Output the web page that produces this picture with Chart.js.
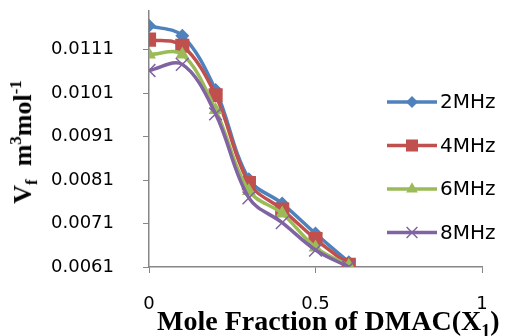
<!DOCTYPE html>
<html>
<head>
<meta charset="utf-8">
<script src="https://cdn.jsdelivr.net/npm/chart.js@4.4.0/dist/chart.umd.min.js"></script>
<style>
  html, body { margin: 0; padding: 0; background: #fff; }
  #wrap { position: relative; width: 505px; height: 336px; }
  .ttl { position: absolute; font-family: "Liberation Serif", "Times New Roman", serif; font-weight: bold; color: #000; white-space: nowrap; }
  #ytitle { left: 24px; top: 142px; font-size: 26px; transform: translate(-50%, -50%) rotate(-90deg); }
  #xtitle { left: 157px; top: 305px; font-size: 28px; }
  sub, sup { font-size: 65%; }
</style>
</head>
<body>
<div id="wrap">
  <canvas id="chart" width="505" height="336"></canvas>
  <div class="ttl" id="ytitle">V<sub>f</sub>&nbsp; m<sup>3</sup>mol<sup>-1</sup></div>
  <div class="ttl" id="xtitle">Mole Fraction of DMAC(X<sub>1</sub>)</div>
</div>
<script>
// mole fraction of DMAC
const moleFraction = [0, 0.1, 0.2, 0.3, 0.4, 0.5, 0.6];
const seriesNames = ['2MHz', '4MHz', '6MHz', '8MHz'];
// Vf values
const vf2 = [0.01165, 0.01142, 0.01017, 0.00812, 0.00756, 0.00687, 0.00621];
const vf4 = [0.01133, 0.01119, 0.01005, 0.00803, 0.00742, 0.00674, 0.00615];
const vf6 = [0.01099, 0.01099, 0.00971, 0.00785, 0.00733, 0.00655, 0.00613];
const vf8 = [0.01062, 0.01076, 0.00962, 0.00769, 0.00712, 0.00649, 0.0061];
const yTicks = [0.0061, 0.0071, 0.0081, 0.0091, 0.0101, 0.0111];
const xTicks = [0, 0.5, 1];

const colors = ['#4F81BD', '#C0504D', '#9BBB59', '#8064A2'];
const styles = ['rectRot', 'rect', 'triangle', 'crossRot'];
const radii = [7, 10, 8, 9];
const allSeries = [vf2, vf4, vf6, vf8];

const datasets = allSeries.map((vals, i) => ({
  label: seriesNames[i],
  data: vals.map((v, j) => ({ x: moleFraction[j], y: v })),
  borderColor: colors[i],
  backgroundColor: colors[i],
  borderWidth: 3.5,
  pointStyle: styles[i],
  pointRadius: radii[i],
  pointBorderWidth: i == 3 ? 1.5 : 0,
  pointBorderColor: colors[i],
  tension: 0.35,
  order: 3 - i
}));

// legend drawn over the plot, like the original
const legendPlugin = {
  id: 'sideLegend',
  afterDraw(chart) {
    const ctx = chart.ctx;
    ctx.save();
    chart.data.datasets.forEach((ds, i) => {
      const y = 102 + i * 43.5;
      ctx.strokeStyle = ds.borderColor;
      ctx.lineWidth = 3.5;
      ctx.beginPath();
      ctx.moveTo(387, y);
      ctx.lineTo(437, y);
      ctx.stroke();
      ctx.fillStyle = ds.backgroundColor;
      ctx.strokeStyle = ds.borderColor;
      ctx.lineWidth = ds.pointBorderWidth || 1.5;
      Chart.helpers.drawPoint(ctx, { pointStyle: ds.pointStyle, radius: ds.pointRadius * 0.85, rotation: 0, borderWidth: ds.pointBorderWidth }, 412, y);
      ctx.fillStyle = '#000';
      ctx.font = '20px "DejaVu Sans"';
      ctx.textBaseline = 'middle';
      ctx.fillText(ds.label, 440, y + 1);
    });
    ctx.restore();
  }
};

new Chart('chart', {
  type: 'line',
  data: { datasets: datasets },
  plugins: [legendPlugin],
  options: {
    responsive: false,
    animation: false,
    layout: { padding: { top: 2, right: 23, left: 0, bottom: 0 } },
    plugins: { legend: { display: false }, tooltip: { enabled: false } },
    scales: {
      x: {
        type: 'linear',
        min: 0, max: 1,
        afterBuildTicks: s => { s.ticks = xTicks.map(v => ({ value: v })); },
        afterFit: s => { s.height = 69; s.paddingLeft = 0; s.paddingRight = 0; },
        grid: { drawOnChartArea: false, drawTicks: true, tickLength: 6, color: '#868686' },
        border: { color: '#868686', width: 1.5 },
        ticks: { color: '#000', font: { family: 'DejaVu Sans', size: 18 }, padding: 21, maxRotation: 0,
          callback: v => String(v) }
      },
      y: {
        min: 0.0061, max: 0.012,
        afterBuildTicks: s => { s.ticks = yTicks.map(v => ({ value: v })); },
        afterFit: s => { s.width = 149; s.paddingTop = 0; s.paddingBottom = 0; },
        grid: { drawOnChartArea: false, drawTicks: true, tickLength: 6, color: '#868686' },
        border: { color: '#868686', width: 1.5 },
        ticks: {
          color: '#000', font: { family: 'DejaVu Sans', size: 18 }, padding: 29,
          callback: v => v.toFixed(4)
        }
      }
    }
  }
});
</script>
</body>
</html>
